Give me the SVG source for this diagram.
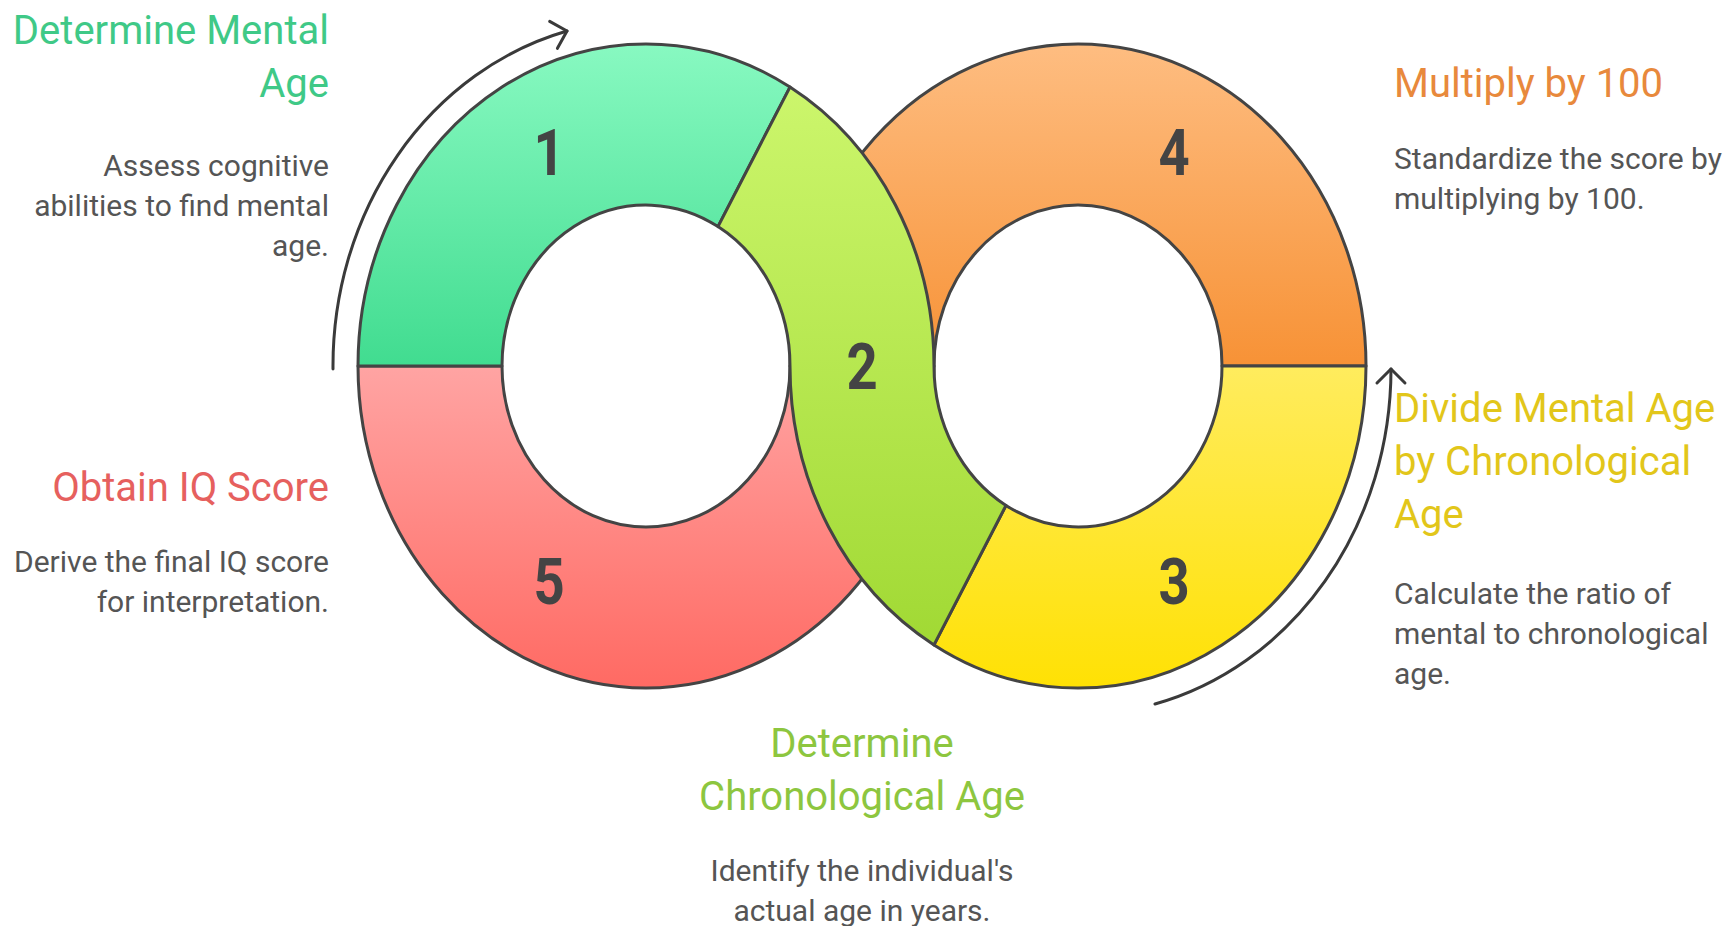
<svg xmlns="http://www.w3.org/2000/svg" width="1728" height="926" viewBox="0 0 1728 926">
<style>
.seg{stroke:#444;stroke-width:3;stroke-linejoin:round}
.num{font-family:Roboto,"Liberation Sans",sans-serif;font-weight:700;font-size:64px;fill:#444;text-anchor:middle}
.ttl{font-family:Roboto,"Liberation Sans",sans-serif;font-size:40px}
.dsc{font-family:Roboto,"Liberation Sans",sans-serif;font-size:30px;fill:#555}
.end{text-anchor:end}
.mid{text-anchor:middle}
.arr{fill:none;stroke:#3a3a3a;stroke-width:3;stroke-linecap:round}
</style>
<defs>
<linearGradient id="gGreen" x1="0" y1="0" x2="0" y2="1"><stop offset="0" stop-color="#88F9C1"/><stop offset="1" stop-color="#41DC90"/></linearGradient>
<linearGradient id="gLime" x1="0" y1="0" x2="0" y2="1"><stop offset="0" stop-color="#CCF66C"/><stop offset="1" stop-color="#A1D934"/></linearGradient>
<linearGradient id="gYellow" x1="0" y1="0" x2="0" y2="1"><stop offset="0" stop-color="#FFEC5E"/><stop offset="1" stop-color="#FFE104"/></linearGradient>
<linearGradient id="gOrange" x1="0" y1="0" x2="0" y2="1"><stop offset="0" stop-color="#FEBD81"/><stop offset="1" stop-color="#F79236"/></linearGradient>
<linearGradient id="gRed" x1="0" y1="0" x2="0" y2="1"><stop offset="0" stop-color="#FFA4A3"/><stop offset="1" stop-color="#FF6A63"/></linearGradient>
<marker id="ah" markerWidth="32" markerHeight="32" refX="18" refY="16" orient="auto" markerUnits="userSpaceOnUse" overflow="visible"><path d="M4 2 L18 16 L4 30" fill="none" stroke="#3a3a3a" stroke-width="3" stroke-linecap="round" stroke-linejoin="round"/></marker>
</defs>

<g id="node-5">
<path class="seg" fill="url(#gRed)" d="M358 366 A288 322 0 0 0 934 366 L790 366 A144 161 0 0 1 502 366 Z"/>
<text class="num" transform="translate(549 604) scale(0.85 1)">5</text>
<text class="ttl end" x="329" y="501" fill="#E6605E">Obtain IQ Score</text>
<text class="dsc end" x="329" y="572">Derive the final IQ score</text>
<text class="dsc end" x="329" y="612">for interpretation.</text>
</g>

<g id="node-4">
<path class="seg" fill="url(#gOrange)" d="M790 366 A288 322 0 0 1 1366 366 L1222 366 A144 161 0 0 0 934 366 Z"/>
<text class="num" transform="translate(1174 175) scale(0.85 1)">4</text>
<text class="ttl" x="1394" y="97" fill="#E8893C">Multiply by 100</text>
<text class="dsc" x="1394" y="169">Standardize the score by</text>
<text class="dsc" x="1394" y="209">multiplying by 100.</text>
</g>

<g id="node-1">
<path class="seg" fill="url(#gGreen)" d="M358 366 A288 322 0 0 1 790 87.1 L718 226.6 A144 161 0 0 0 502 366 Z"/>
<text class="num" transform="translate(549 175) scale(0.85 1)">1</text>
<text class="ttl end" x="329" y="44" fill="#3FC987">Determine Mental</text>
<text class="ttl end" x="329" y="97" fill="#3FC987">Age</text>
<text class="dsc end" x="329" y="176">Assess cognitive</text>
<text class="dsc end" x="329" y="216">abilities to find mental</text>
<text class="dsc end" x="329" y="256">age.</text>
</g>

<g id="node-3">
<path class="seg" fill="url(#gYellow)" d="M934 644.9 A288 322 0 0 0 1366 366 L1222 366 A144 161 0 0 1 1006 505.4 Z"/>
<text class="num" transform="translate(1174 604) scale(0.85 1)">3</text>
<text class="ttl" x="1394" y="422" fill="#E2C61A">Divide Mental Age</text>
<text class="ttl" x="1394" y="475" fill="#E2C61A">by Chronological</text>
<text class="ttl" x="1394" y="528" fill="#E2C61A">Age</text>
<text class="dsc" x="1394" y="604">Calculate the ratio of</text>
<text class="dsc" x="1394" y="644">mental to chronological</text>
<text class="dsc" x="1394" y="684">age.</text>
</g>

<g id="node-2">
<path class="seg" fill="url(#gLime)" d="M790 87.1 A288 322 0 0 1 934 366 A144 161 0 0 0 1006 505.4 L934 644.9 A288 322 0 0 1 790 366 A144 161 0 0 0 718 226.6 Z"/>
<text class="num" transform="translate(862 389) scale(0.85 1)">2</text>
<text class="ttl mid" x="862" y="757" fill="#8DC63F">Determine</text>
<text class="ttl mid" x="862" y="810" fill="#8DC63F">Chronological Age</text>
<text class="dsc mid" x="862" y="881">Identify the individual's</text>
<text class="dsc mid" x="862" y="921">actual age in years.</text>
</g>

<g id="connectors">
<path class="arr" marker-end="url(#ah)" d="M333 369 A313 346 0 0 1 567 31"/>
<path class="arr" marker-end="url(#ah)" d="M1155 704 A313 346 0 0 0 1391 369"/>
</g>
</svg>
